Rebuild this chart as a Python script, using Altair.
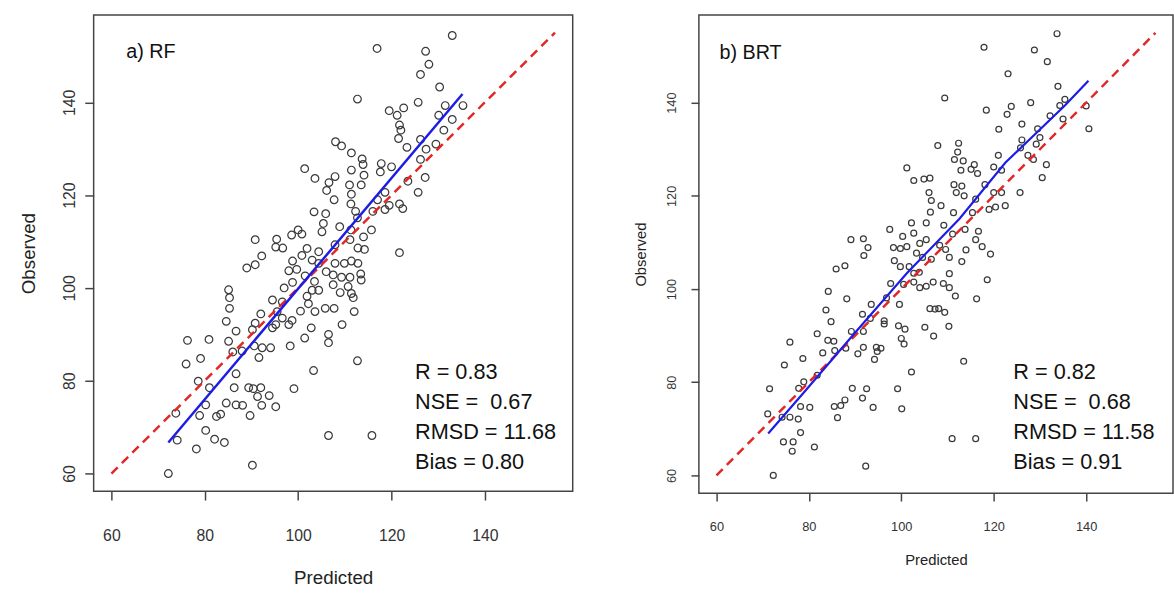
import altair as alt
import pandas as pd

# ---------------- data ----------------
rf_pred = [133.0, 116.9, 127.3, 128.0, 126.2, 130.3, 112.7, 125.7, 131.5, 119.5,
           122.6, 121.2, 135.3, 130.1, 133.0, 121.7, 122.0, 131.2, 121.5, 108.0,
           109.3, 126.2, 123.3, 127.4, 111.4, 113.7, 126.2, 113.9, 117.8, 120.0,
           101.4, 111.4, 114.1, 117.6, 127.2, 103.6, 107.9, 106.6, 106.1, 111.0,
           113.5, 125.7, 111.4, 107.7, 111.3, 118.6, 119.5, 118.6, 121.7, 122.4,
           112.3, 116.0, 103.4, 105.9, 112.7, 105.4, 90.8, 95.4, 95.2, 96.7,
           98.6, 100.0, 100.8, 105.1, 108.9, 111.3, 115.7, 92.2, 89.0, 90.8,
           101.9, 104.4, 107.9, 111.1, 112.8, 114.2, 121.7, 98.8, 98.0, 99.7,
           101.5, 104.4, 107.9, 109.9, 111.4, 112.8, 107.5, 103.5, 104.4, 103.0,
           98.8, 107.5, 109.3, 111.1, 113.4, 113.5, 110.7, 111.4, 111.8, 85.1,
           85.3, 85.3, 84.6, 94.5, 96.6, 101.9, 102.2, 103.6, 105.8, 107.7,
           112.0, 92.0, 95.5, 96.6, 98.7, 90.8, 98.0, 109.4, 86.7, 90.2,
           94.5, 95.2, 102.8, 106.5, 106.5, 101.4, 76.3, 80.9, 85.1, 86.0,
           88.0, 90.6, 92.3, 94.1, 98.3, 91.6, 76.0, 79.1, 112.7, 86.7,
           78.6, 103.3, 81.0, 86.3, 89.4, 90.4, 92.0, 99.1, 91.3, 93.8,
           73.8, 80.2, 84.6, 86.7, 88.1, 92.2, 95.2, 78.9, 82.5, 83.4,
           89.7, 74.1, 80.2, 82.1, 84.2, 78.2, 106.5, 115.8, 72.2, 90.2,
           100.8, 103.0, 109.0, 114.0, 117.0, 97.0, 106.0, 100.5, 123.5, 129.5]
rf_obs = [154.4, 151.6, 151.0, 148.2, 146.0, 143.3, 140.7, 140.0, 139.3, 138.2,
          138.8, 137.2, 139.3, 137.2, 136.3, 135.1, 134.0, 134.0, 132.2, 131.5,
          130.6, 132.0, 130.3, 129.9, 129.1, 127.8, 127.7, 126.6, 126.8, 126.1,
          125.7, 125.4, 124.3, 125.0, 123.8, 123.6, 124.0, 122.7, 121.0, 122.2,
          122.2, 120.6, 120.2, 119.0, 118.1, 120.6, 117.8, 116.9, 118.1, 117.1,
          116.5, 116.5, 116.4, 116.0, 115.1, 113.9, 110.4, 110.5, 108.8, 108.6,
          111.4, 112.5, 111.6, 112.1, 113.2, 112.5, 112.5, 106.9, 104.3, 105.0,
          108.5, 107.8, 109.3, 110.4, 108.6, 108.3, 107.6, 105.8, 103.7, 104.0,
          102.6, 105.3, 105.3, 105.3, 105.8, 105.3, 102.8, 101.4, 99.5, 99.5,
          101.2, 100.7, 102.3, 102.3, 103.0, 101.7, 100.3, 98.8, 97.9, 99.6,
          97.9, 95.6, 92.8, 97.4, 97.0, 98.2, 96.6, 94.9, 95.6, 95.6,
          94.9, 94.4, 94.9, 93.5, 93.0, 92.4, 92.1, 92.1, 90.7, 91.0,
          91.4, 92.1, 91.4, 90.0, 88.2, 89.2, 88.7, 88.9, 88.5, 86.2,
          86.4, 87.5, 87.1, 87.1, 87.5, 85.0, 83.6, 84.8, 84.3, 81.5,
          79.9, 82.2, 78.5, 78.5, 78.5, 78.3, 78.5, 78.3, 76.6, 76.8,
          73.0, 74.8, 75.2, 74.8, 74.7, 74.7, 74.4, 72.5, 72.3, 72.8,
          72.5, 67.2, 69.3, 67.4, 66.7, 65.3, 68.2, 68.2, 60.0, 61.8,
          107.0, 106.0, 99.0, 111.0, 119.0, 100.0, 103.5, 95.0, 123.0, 131.0]

brt_pred = [133.7, 117.9, 128.8, 131.6, 123.1, 133.9, 109.4, 128.0, 123.8, 118.4,
            122.9, 140.0, 135.4, 134.3, 132.2, 135.0, 140.6, 121.1, 126.1, 129.5,
            130.0, 126.1, 107.9, 112.4, 129.2, 125.8, 112.2, 121.0, 127.4, 111.5,
            128.6, 113.4, 115.8, 131.4, 101.2, 112.9, 115.1, 116.5, 120.0, 121.7,
            130.5, 102.7, 104.9, 106.2, 111.4, 113.1, 118.1, 106.0, 111.9, 113.6,
            120.0, 121.7, 125.7, 106.5, 116.1, 108.6, 122.5, 119.0, 120.4, 106.3,
            111.3, 115.4, 105.4, 102.2, 109.2, 97.5, 100.3, 102.7, 105.4, 113.8,
            116.7, 116.1, 89.1, 91.8, 92.8, 91.9, 98.3, 99.8, 101.2, 104.0,
            103.3, 104.6, 106.5, 108.3, 109.6, 111.1, 114.0, 117.5, 119.3, 98.5,
            99.8, 101.7, 110.4, 113.1, 85.9, 87.8, 102.7, 103.9, 102.7, 104.0,
            105.4, 106.9, 109.1, 110.4, 110.4, 111.7, 118.6, 97.7, 100.5, 84.2,
            88.2, 116.3, 93.5, 96.8, 99.6, 83.7, 91.6, 93.3, 84.8, 96.3,
            106.2, 107.3, 108.1, 109.4, 96.3, 99.4, 100.8, 105.1, 110.3, 89.2,
            91.8, 81.8, 84.1, 85.4, 107.0, 100.0, 100.6, 75.9, 83.0, 85.6,
            88.0, 90.6, 91.8, 94.6, 95.6, 94.8, 94.2, 78.7, 74.7, 113.5,
            102.2, 78.9, 81.8, 77.8, 71.5, 89.4, 92.5, 99.2, 78.2, 80.2,
            85.5, 86.9, 87.8, 91.6, 93.9, 100.1, 71.1, 74.2, 75.9, 77.7,
            86.2, 78.2, 74.5, 76.6, 76.4, 81.2, 111.0, 116.1, 72.3, 92.3]
brt_obs = [154.8, 151.9, 151.3, 148.8, 146.2, 143.5, 141.0, 140.0, 139.2, 138.4,
           137.5, 139.3, 140.7, 139.4, 137.2, 136.5, 134.4, 134.3, 135.4, 134.4,
           132.5, 132.0, 130.8, 131.3, 131.1, 130.3, 129.4, 128.7, 128.7, 127.8,
           127.8, 127.5, 126.7, 126.7, 126.0, 125.5, 125.7, 124.8, 126.2, 125.5,
           123.9, 123.3, 123.6, 123.8, 122.4, 122.1, 122.4, 120.7, 120.7, 120.0,
           120.7, 120.7, 120.7, 119.0, 119.3, 117.9, 117.9, 117.1, 117.6, 116.5,
           116.4, 116.4, 114.2, 114.2, 113.7, 112.8, 111.3, 112.0, 110.6, 112.8,
           112.4, 110.6, 110.6, 110.8, 108.9, 107.2, 108.9, 108.7, 109.1, 109.8,
           107.7, 106.8, 106.4, 109.4, 108.5, 111.8, 108.4, 109.1, 107.5, 106.1,
           104.8, 104.8, 106.8, 105.9, 104.3, 105.0, 103.4, 103.6, 101.5, 100.3,
           100.6, 101.5, 101.2, 103.3, 100.3, 98.5, 102.0, 101.2, 101.0, 99.5,
           97.9, 97.9, 96.7, 98.1, 96.7, 95.5, 94.6, 93.7, 93.0, 93.2,
           95.8, 95.7, 95.8, 95.0, 92.5, 92.1, 91.4, 91.8, 92.0, 90.9,
           90.9, 90.4, 89.0, 88.8, 89.9, 89.4, 88.2, 88.6, 86.3, 86.8,
           87.3, 86.1, 87.5, 87.5, 87.3, 86.6, 84.9, 85.1, 83.7, 84.5,
           82.2, 80.1, 81.5, 78.7, 78.6, 78.7, 78.6, 78.6, 74.8, 74.6,
           74.8, 75.0, 76.2, 76.6, 74.6, 74.3, 73.2, 72.5, 72.5, 72.1,
           72.4, 69.2, 67.2, 67.2, 65.2, 66.1, 67.9, 67.9, 60.0, 62.0]

# 1:1 reference line and fitted lines
one_to_one = [60, 155]
rf_fit_pred = [72.2, 135.2]
rf_fit_obs = [66.7, 141.8]
brt_fit_pred = [71.2, 79.1, 89.8, 101.2, 112.6, 122.5, 135.4, 140.5]
brt_fit_obs = [69.0, 78.0, 90.4, 103.4, 115.1, 127.1, 139.4, 144.7]

tick_values = [60, 80, 100, 120, 140]
domain = [56.2, 158.8]

stats_a = ["R = 0.83", "NSE = \u00a00.67", "RMSD = 11.68", "Bias = 0.80"]
stats_b = ["R = 0.82", "NSE = \u00a00.68", "RMSD = 11.58", "Bias = 0.91"]

FONT = "Liberation Sans"


def panel(pred, obs, fit_p, fit_o, label, stats, w, h, s):
    pts = pd.DataFrame({"Predicted": pred, "Observed": obs})
    xs = alt.Scale(domain=domain, nice=False, zero=False)
    ys = alt.Scale(domain=domain, nice=False, zero=False)
    xaxis = alt.Axis(values=tick_values, tickSize=s["tick"], tickWidth=1.5,
                     tickColor="#444", domain=False, grid=False,
                     labelFontSize=s["lfs"], labelFont=FONT, labelColor="#333",
                     labelPadding=s["xlp"], title="Predicted",
                     titleFontSize=s["tfs"], titleFont=FONT,
                     titleFontWeight="normal", titleColor="#222",
                     titlePadding=s["xtp"])
    yaxis = alt.Axis(values=tick_values, tickSize=s["tick"], tickWidth=1.5,
                     tickColor="#444", domain=False, grid=False,
                     labelFontSize=s["lfs"], labelFont=FONT, labelColor="#333",
                     labelAngle=270, labelAlign="center", labelBaseline="bottom",
                     labelPadding=s["ylp"], title="Observed",
                     titleFontSize=s["ytfs"], titleFont=FONT,
                     titleFontWeight=s["ytw"], titleColor="#222",
                     titlePadding=s["ytp"])

    points = alt.Chart(pts).mark_point(
        shape="circle", filled=False, size=s["size"], strokeWidth=1.25,
        color="#3a3a3a", opacity=1
    ).encode(
        x=alt.X("Predicted:Q", scale=xs, axis=xaxis),
        y=alt.Y("Observed:Q", scale=ys, axis=yaxis),
    )
    ref = alt.Chart(pd.DataFrame({"p": one_to_one, "o": one_to_one})).mark_line(
        color="#e32626", strokeDash=[9, 6], strokeWidth=2.5, clip=True
    ).encode(x=alt.X("p:Q", scale=xs), y=alt.Y("o:Q", scale=ys))
    fit = alt.Chart(pd.DataFrame({"p": fit_p, "o": fit_o})).mark_line(
        color="#1c1ce6", strokeWidth=s["blw"], clip=True
    ).encode(x=alt.X("p:Q", scale=xs), y=alt.Y("o:Q", scale=ys))
    lab = alt.Chart(pd.DataFrame({"t": [label]})).mark_text(
        align="left", baseline="middle", fontSize=20, font=FONT, color="#111"
    ).encode(text="t:N", x=alt.value(s["lab_x"]), y=alt.value(s["lab_y"]))
    st = alt.Chart(pd.DataFrame({"t": ["\n".join(stats)]})).mark_text(
        align="left", baseline="middle", fontSize=22, font=FONT, color="#111",
        lineBreak="\n", lineHeight=30.5
    ).encode(text="t:N", x=alt.value(s["st_x"]), y=alt.value(s["st_y"]))
    return alt.layer(points, ref, fit, lab, st).properties(width=w, height=h)


style_a = dict(tick=9, lfs=16, xlp=28, tfs=19, xtp=26, ylp=7, ytfs=19, ytw="normal",
               ytp=24, size=60, blw=2.5, lab_x=33, lab_y=38, st_x=326, st_y=362)
style_b = dict(tick=8, lfs=13, xlp=20, tfs=15, xtp=19, ylp=13, ytfs=15, ytw="normal",
               ytp=17, size=36, blw=2.2, lab_x=21, lab_y=39, st_x=319, st_y=362)

a = panel(rf_pred, rf_obs, rf_fit_pred, rf_fit_obs, "a) RF", stats_a, 486, 483, style_a)
b = panel(brt_pred, brt_obs, brt_fit_pred, brt_fit_obs, "b) BRT", stats_b, 481, 485, style_b)

chart = alt.hconcat(a, b, spacing=128, bounds="flush").properties(
    padding={"left": 19, "top": 10, "right": 0, "bottom": 0},
    background="white",
).configure_view(stroke="#444", strokeWidth=1.5)

chart.save("out.html", embed_options={"renderer": "svg", "actions": False})
